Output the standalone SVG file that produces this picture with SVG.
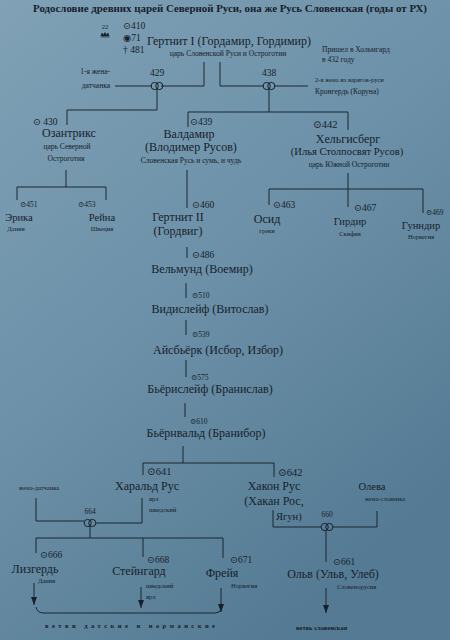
<svg xmlns="http://www.w3.org/2000/svg" width="450" height="640" viewBox="0 0 450 640">
<defs>
<linearGradient id="bg" x1="0" y1="0" x2="0.6" y2="1">
<stop offset="0" stop-color="#80a1b6"/>
<stop offset="0.5" stop-color="#6c91a8"/>
<stop offset="1" stop-color="#557b94"/>
</linearGradient>
<marker id="arr" viewBox="0 0 8 6" refX="8" refY="3" markerWidth="8" markerHeight="6" orient="auto" markerUnits="userSpaceOnUse">
<path d="M0,0 L8,3 L0,6 Z" fill="#16212b"/>
</marker>
<g id="ring">
<circle cx="-2.3" cy="0" r="3.6" fill="none" stroke="#16212b" stroke-width="1"/>
<circle cx="2.3" cy="0" r="3.6" fill="none" stroke="#16212b" stroke-width="1"/>
</g>
</defs>
<style>
text{font-family:"Liberation Serif","DejaVu Serif",serif;fill:#16212b}
.t{font-weight:bold;font-size:11px}
.n{font-size:12px}
.m{font-size:10.5px}
.d{font-size:9.5px}
.s{font-size:7.5px}
.xs{font-size:6.5px}
.c{text-anchor:middle}
.e{text-anchor:end}
.ln{fill:none;stroke:#1b2631;stroke-width:1}
</style>
<rect x="0" y="0" width="450" height="640" fill="url(#bg)"/>

<text class="t c" x="230" y="12" textLength="394" lengthAdjust="spacingAndGlyphs">Родословие древних царей Северной Руси, она же Русь Словенская (годы от РХ)</text>

<g id="connectors">
<path class="ln" d="M204,62 V86 H161"/>
<path class="ln" d="M115,86 H152"/>
<path class="ln" d="M220,62 V86 H264"/>
<path class="ln" d="M274,86 H308"/>
<path class="ln" d="M157,89 V110 H67 V125"/>
<path class="ln" d="M269,89 V112"/>
<path class="ln" d="M188,127 V112 H348 V130"/>
<path class="ln" d="M66,170 V187"/>
<path class="ln" d="M17,200 V187 H106 V200"/>
<path class="ln" d="M187,170 V208"/>
<path class="ln" d="M348,173 V189"/>
<path class="ln" d="M269,205 V189 H423 V213"/>
<path class="ln" d="M348,189 V207"/>
<path class="ln" d="M187,247 V258"/>
<path class="ln" d="M186,283 V298"/>
<path class="ln" d="M186,320 V335"/>
<path class="ln" d="M186,360 V377"/>
<path class="ln" d="M185,403 V417"/>
<path class="ln" d="M183,446 V463"/>
<path class="ln" d="M143,475 V463 H274 V477"/>
<path class="ln" d="M36,498 V521 H84"/>
<path class="ln" d="M96,523 H142 V498"/>
<path class="ln" d="M273,510 V527 H321"/>
<path class="ln" d="M333,527 H377 V511"/>
<path class="ln" d="M90,526 V538"/>
<path class="ln" d="M36,553 V538 H223 V558"/>
<path class="ln" d="M143,538 V557"/>
<path class="ln" d="M326,530 V562"/>
<path class="ln" d="M34,583 V605" marker-end="url(#arr)"/>
<path class="ln" d="M141,587 V608" marker-end="url(#arr)"/>
<path class="ln" d="M221,588 V612" marker-end="url(#arr)"/>
<path class="ln" d="M326,588 V613" marker-end="url(#arr)"/>
<path class="ln" d="M36,607 Q37,613 44,613 H215 Q220,613 221,609"/>
</g>

<g id="m429"><use href="#ring" x="157" y="86"/><text class="d c" x="157" y="76">429</text></g>
<g id="m438"><use href="#ring" x="269" y="86"/><text class="d c" x="269" y="76">438</text></g>
<g id="m664"><use href="#ring" x="90" y="523"/><text class="s c" x="90" y="514">664</text></g>
<g id="m660"><use href="#ring" x="327" y="527"/><text class="s c" x="327" y="517">660</text></g>

<g id="gertnit1">
<text class="xs c" x="105" y="29">22</text>
<path d="M101,36 L102,33 L103.5,35 L105,32.5 L106.5,35 L108,33 L109,36 Z M100.5,37 H109.5" fill="#16212b" stroke="#16212b" stroke-width="0.6"/>
<text class="d" x="123" y="29">⊙410</text>
<text class="d" x="123" y="41">◉71</text>
<text class="d" x="123" y="53">† 481</text>
<text class="n c" x="229" y="45">Гертнит I (Гордамир, Гордимир)</text>
<text class="s c" x="228" y="56">царь Словенской Руси и Остроготии</text>
<text class="s" x="322" y="52">Пришел в Хольмгард</text>
<text class="s" x="322" y="62">в 432 году</text>
</g>
<g id="wife1">
<text class="s e" x="110" y="74">1-я жена-</text>
<text class="s e" x="110" y="88">датчанка</text>
</g>
<g id="wife2">
<text class="xs" x="315" y="82">2-я жена из варягов-руси</text>
<text class="s" x="315" y="94">Кронгердь (Коруна)</text>
</g>

<g id="ozantriks">
<text class="d" x="33" y="125">⊙ 430</text>
<text class="n c" x="69" y="137">Озантрикс</text>
<text class="s c" x="67" y="149">царь Северной</text>
<text class="s c" x="66" y="161">Остроготия</text>
</g>
<g id="valdamir">
<text class="d" x="190" y="125">⊙439</text>
<text class="n c" x="189" y="138">Валдамир</text>
<text class="n c" x="191" y="151">(Влодимер Русов)</text>
<text class="s c" x="191" y="163">Словенская Русь и сумь, и чудь</text>
</g>
<g id="helgisberg">
<text class="m" x="313" y="128">⊙442</text>
<text class="n c" x="348" y="143">Хельгисберг</text>
<text class="m c" x="347" y="155">(Илья Столпосвят Русов)</text>
<text class="s c" x="349" y="167">царь Южной Остроготии</text>
</g>

<g id="erika">
<text class="s" x="20" y="207">⊙451</text>
<text class="m c" x="19" y="221">Эрика</text>
<text class="xs c" x="16" y="231">Дания</text>
</g>
<g id="reina">
<text class="s" x="78" y="207">⊙453</text>
<text class="m c" x="102" y="221">Рейна</text>
<text class="xs c" x="102" y="231">Швеция</text>
</g>
<g id="gertnit2">
<text class="d" x="192" y="208">⊙460</text>
<text class="n c" x="178" y="221">Гертнит II</text>
<text class="n c" x="178" y="235">(Гордвиг)</text>
</g>
<g id="osid">
<text class="d" x="273" y="208">⊙463</text>
<text class="n c" x="267" y="223">Осид</text>
<text class="xs c" x="267" y="233">греки</text>
</g>
<g id="girdir">
<text class="d" x="354" y="211">⊙467</text>
<text class="m c" x="350" y="225">Гирдир</text>
<text class="xs c" x="350" y="236">Скифия</text>
</g>
<g id="gunndir">
<text class="s" x="426" y="215">⊙469</text>
<text class="m c" x="421" y="229">Гунндир</text>
<text class="xs c" x="421" y="239">Норвегия</text>
</g>

<g id="velmund">
<text class="d" x="192" y="258">⊙486</text>
<text class="n c" x="202" y="273">Вельмунд (Воемир)</text>
</g>
<g id="vidisleif">
<text class="s" x="192" y="298">⊙510</text>
<text class="n c" x="210" y="313">Видислейф (Витослав)</text>
</g>
<g id="aisbjork">
<text class="s" x="192" y="337">⊙539</text>
<text class="n c" x="218" y="354">Айсбьёрк (Исбор, Избор)</text>
</g>
<g id="bjorisleif">
<text class="s" x="191" y="380">⊙575</text>
<text class="n c" x="210" y="393">Бьёрислейф (Бранислав)</text>
</g>
<g id="bjornvald">
<text class="s" x="190" y="424">⊙610</text>
<text class="n c" x="206" y="437">Бьёрнвальд (Бранибор)</text>
</g>

<g id="harald">
<text class="m" x="147" y="475">⊙641</text>
<text class="n c" x="147" y="490">Харальд Рус</text>
<text class="xs" x="149" y="501">ярл</text>
<text class="xs" x="149" y="512">шведский</text>
</g>
<g id="wife-dane">
<text class="xs c" x="39" y="490">жена-датчанка</text>
</g>
<g id="hakon">
<text class="m" x="278" y="476">⊙642</text>
<text class="n c" x="274" y="490">Хакон Рус</text>
<text class="n c" x="274" y="505">(Хакан Рос,</text>
<text class="m" x="276" y="520">Ягун)</text>
</g>
<g id="oleva">
<text class="m c" x="372" y="490">Олева</text>
<text class="xs c" x="385" y="501">жена-словенка</text>
</g>

<g id="lizgerd">
<text class="d" x="40" y="558">⊙666</text>
<text class="n c" x="35" y="573">Лизгердь</text>
<text class="xs" x="38" y="583">Дания</text>
</g>
<g id="steingard">
<text class="d" x="147" y="563">⊙668</text>
<text class="n c" x="139" y="575">Стейнгард</text>
<text class="xs" x="146" y="588">шведский</text>
<text class="xs" x="146" y="599">ярл</text>
</g>
<g id="freya">
<text class="d" x="230" y="563">⊙671</text>
<text class="n c" x="222" y="577">Фрейя</text>
<text class="xs" x="231" y="588">Норвегия</text>
</g>
<g id="olv">
<text class="d" x="333" y="565">⊙661</text>
<text class="n c" x="333" y="578">Ольв (Ульв, Улеб)</text>
<text class="xs" x="337" y="589">Словенорусия</text>
</g>
<text class="xs" x="45" y="628" font-weight="bold" textLength="170" lengthAdjust="spacing">ветви датские и норманские</text>
<text class="xs" x="296" y="630" font-weight="bold">ветвь словенская</text>
</svg>
